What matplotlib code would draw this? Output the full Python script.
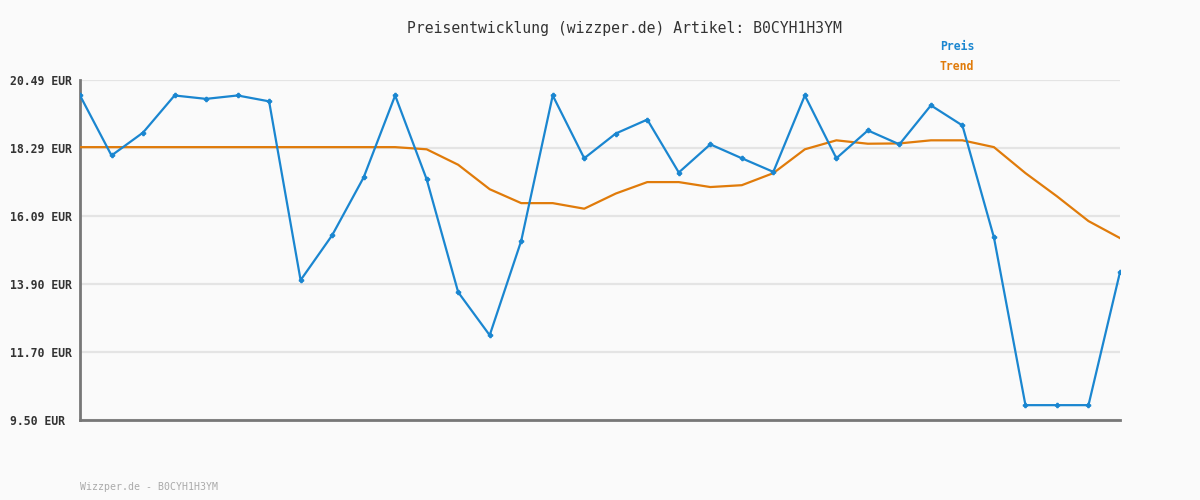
import numpy as np
import matplotlib
matplotlib.use('Agg')
import matplotlib.pyplot as plt

# values
preis = [19.99, 18.05, 18.79, 19.99, 19.88, 19.99, 19.80, 14.02, 15.47, 17.34,
         19.99, 17.28, 13.63, 12.24, 15.29, 19.99, 17.96, 18.76, 19.21, 17.50,
         18.41, 17.96, 17.52, 19.99, 17.96, 18.86, 18.41, 19.67, 19.02, 15.40,
         9.98, 9.98, 9.98, 14.28]
trend = [18.32, 18.32, 18.32, 18.32, 18.32, 18.32, 18.32, 18.32, 18.32, 18.32,
         18.32, 18.25, 17.75, 16.96, 16.51, 16.51, 16.33, 16.82, 17.19, 17.19,
         17.03, 17.09, 17.48, 18.25, 18.54, 18.43, 18.44, 18.54, 18.54, 18.32,
         17.48, 16.73, 15.93, 15.38]
yticks = [9.50, 11.70, 13.90, 16.09, 18.29, 20.49]
ytick_labels = ['9.50 EUR', '11.70 EUR', '13.90 EUR', '16.09 EUR', '18.29 EUR', '20.49 EUR']
artikel = 'B0CYH1H3YM'

blue = '#1a86d0'
orange = '#e07b0a'
bg = '#fafafa'
mono = 'DejaVu Sans Mono'

fig = plt.figure(figsize=(12, 5), dpi=100, facecolor=bg)
ax = fig.add_axes([80/1200, 80/500, 1040/1200, 340/500], facecolor=bg)

x = np.arange(len(preis))
ax.plot(x, trend, color=orange, lw=1.6, zorder=3)
ax.plot(x, preis, color=blue, lw=1.6, marker='P', ms=3, zorder=4)

ax.set_xlim(0, len(preis) - 1)
ax.set_ylim(9.50, 20.49)
ax.set_yticks(yticks)
ax.set_yticklabels(ytick_labels, fontfamily=mono, fontweight='bold', fontsize=8.3,
                   color='#333333', ha='left')
ax.set_xticks([])
# left-aligned labels starting at x=10 px (70 px left of the spine)
ax.tick_params(axis='y', length=0, pad=70 * 0.72)
ax.grid(axis='y', color='#e4e4e4', lw=1.6, zorder=0)
ax.set_axisbelow(True)

for s in ['top', 'right']:
    ax.spines[s].set_visible(False)
for s in ['left', 'bottom']:
    ax.spines[s].set_color('#777777')
    ax.spines[s].set_linewidth(2)

fig.text(624/1200, 1 - 28/500, 'Preisentwicklung (wizzper.de) Artikel: ' + artikel,
         ha='center', va='center', fontfamily=mono, fontsize=10.6, color='#333333')
fig.text(940/1200, 1 - 47/500, 'Preis', ha='left', va='center', fontfamily=mono,
         fontweight='bold', fontsize=8.3, color=blue)
fig.text(940/1200, 1 - 67/500, 'Trend', ha='left', va='center', fontfamily=mono,
         fontweight='bold', fontsize=8.3, color=orange)
fig.text(80/1200, 1 - 487/500, 'Wizzper.de - ' + artikel, ha='left', va='center',
         fontfamily=mono, fontsize=7.1, color='#aaaaaa')

plt.savefig('out.png', dpi=100, facecolor=bg)
